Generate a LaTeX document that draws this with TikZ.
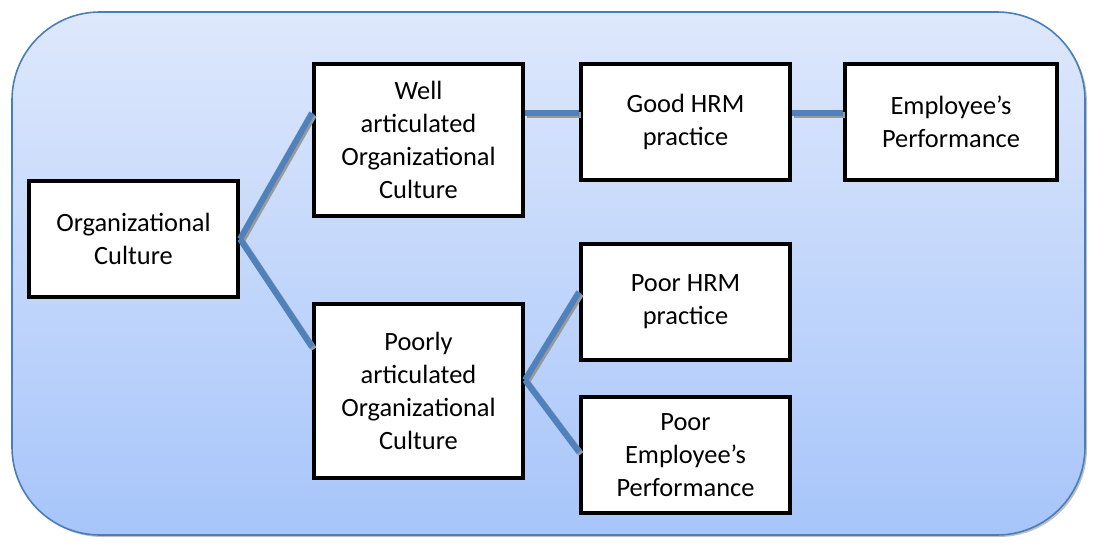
\documentclass[tikz,border=0pt]{standalone}
\usepackage{fontspec}
\setmainfont{Carlito}
\usetikzlibrary{positioning}
\definecolor{PanelTop}{HTML}{DEE8FC}
\definecolor{PanelBottom}{HTML}{A7C5FA}
\definecolor{PanelLine}{HTML}{4A7EBB}
\definecolor{LinkBlue}{HTML}{4F81BD}

\begin{document}
\begin{tikzpicture}[x=0.5pt, y=-0.5pt,
                      box/.style={draw=black, line width=2pt, fill=white, align=center,
                                  minimum width=104.5pt, minimum height=58pt, inner sep=2pt,
                                  font=\fontsize{13.2}{16.5}\selectfont},
                      link/.style={draw=LinkBlue, line width=3pt,
                                   preaction={draw=black!40, line width=3pt,
                                              transform canvas={xshift=1pt, yshift=-1pt}}}]
  \useasboundingbox (0,0) rectangle (1093,546);
  \fill[black!25, rounded corners=44pt] (14,14) rectangle (1087,537);
  \shade[top color=PanelTop, bottom color=PanelBottom, draw=PanelLine, line width=0.8pt,
         rounded corners=44pt] (12,12) rectangle (1085,535);
  \node[box] (org) at (133.5,239) {Organizational\\Culture};
  \node[box, minimum height=76pt] (well) at (418.5,140) {Well\\articulated\\Organizational\\Culture};
  \node[box, minimum height=87pt, below=42pt of well] (poorly) {Poorly\\articulated\\Organizational\\Culture};
  \node[box, right=27pt of well.north east, anchor=north west] (good) {Good HRM\\practice};
  \node[box, minimum width=106pt, right=25.5pt of good] (perf) {Employee’s\\Performance};
  \node[box, below=30pt of good] (poorhrm) {Poor HRM\\practice};
  \node[box, below=16.5pt of poorhrm] (poorperf) {Poor\\Employee’s\\Performance};
  \path (good.west) ++(0,-9) coordinate (top);
  \draw[link] (org.east) -- ([yshift=13.5pt]well.west);
  \draw[link] (org.east) -- ([yshift=22pt]poorly.west);
  \draw[link] (top -| well.east) -- (top);
  \draw[link] (top -| good.east) -- (top -| perf.west);
  \draw[link] ([yshift=5.5pt]poorly.east) -- ([yshift=5pt]poorhrm.west);
  \draw[link] ([yshift=5.5pt]poorly.east) -- ([yshift=1.5pt]poorperf.west);
\end{tikzpicture}
\end{document}
